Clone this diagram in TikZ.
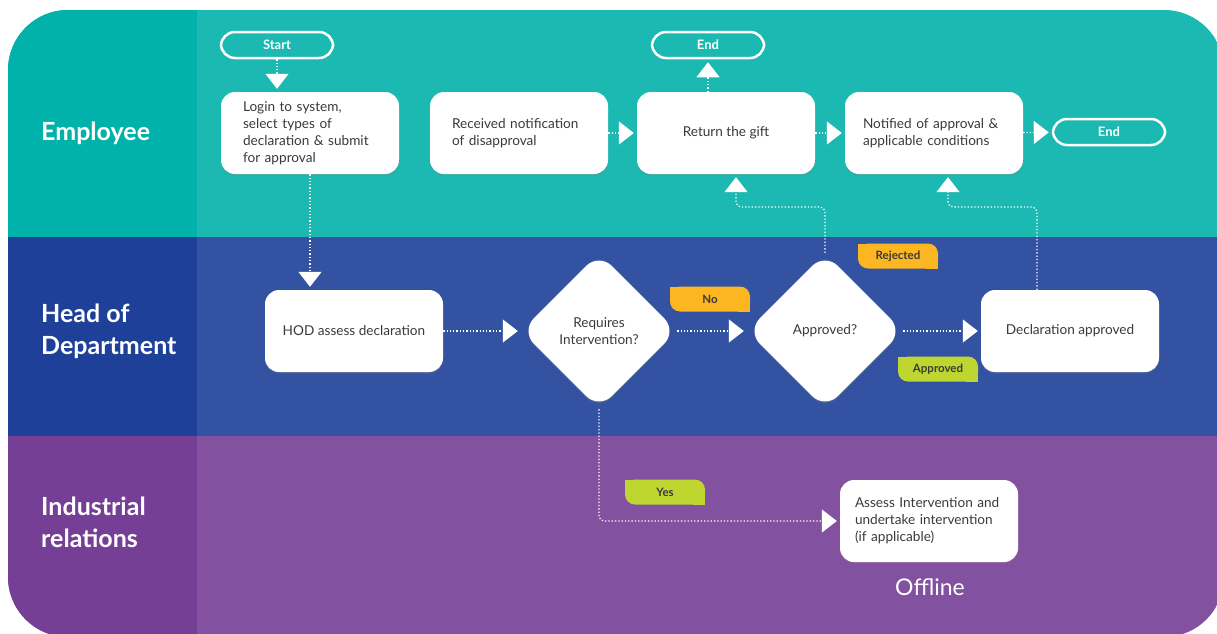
\documentclass[tikz,border=0pt]{standalone}
\usepackage{fontspec}
\setmainfont{Lato}
\usetikzlibrary{shapes.geometric,arrows.meta,shadows}

\definecolor{emphead}{HTML}{00B2A9}
\definecolor{empbody}{HTML}{1BB9B1}
\definecolor{hodhead}{HTML}{1E4098}
\definecolor{hodbody}{HTML}{3452A2}
\definecolor{irhead}{HTML}{763F96}
\definecolor{irbody}{HTML}{8252A0}
\definecolor{tagorange}{HTML}{FBB622}
\definecolor{taggreen}{HTML}{BED62F}
\definecolor{boxtext}{HTML}{3A3A3A}

\begin{document}
\begin{tikzpicture}[x=1pt,y=-1pt,
  process/.style={fill=white, rounded corners=14pt, minimum width=178pt, minimum height=82pt,
    inner sep=0pt, text=boxtext, font=\fontsize{13.6}{17}\selectfont,
    drop shadow={shadow xshift=0pt, shadow yshift=-1.5pt, opacity=0.3}},
  leftbox/.style={process, text width=134pt, align=left},
  decision/.style={diamond, fill=white, minimum width=156pt, minimum height=156pt, inner sep=0pt,
    rounded corners=18pt, align=center, text=boxtext, font=\fontsize{13.6}{17}\selectfont,
    drop shadow={shadow xshift=0pt, shadow yshift=-1.5pt, opacity=0.3}},
  startend/.style={draw=white, line width=2.5pt, rounded corners=14pt, minimum width=112pt,
    minimum height=26pt, inner sep=0pt, text=white, font=\bfseries\fontsize{13}{15}\selectfont},
  tagbox/.style={minimum width=80pt, minimum height=25pt, inner sep=0pt, text=boxtext,
    font=\bfseries\fontsize{11.5}{13}\selectfont,
    path picture={
      \fill[#1, rounded corners=10pt] (path picture bounding box.south west) rectangle (path picture bounding box.north east);
      \fill[#1] (path picture bounding box.north west) rectangle ++(12,12);
      \fill[#1] (path picture bounding box.south east) rectangle ++(-12,-12);}},
  lanelabel/.style={anchor=west, align=left, inner sep=0pt, text=white,
    font=\bfseries\fontsize{25}{32}\selectfont},
  flow/.style={draw=white, line width=1.2pt, dash pattern=on 1.3pt off 2pt, rounded corners=5pt,
    -{Triangle[width=23pt,length=15pt]}, shorten >=3pt}]

\useasboundingbox (0,0) rectangle (1217,633);

% Draw the swimlanes
\begin{scope}
\clip[rounded corners=60pt] (8,10) rectangle (1224,637);
\fill[empbody] (8,10) rectangle (1224,237);
\fill[emphead] (8,10) rectangle (197,237);
\fill[hodbody] (8,237) rectangle (1224,436);
\fill[hodhead] (8,237) rectangle (197,436);
\fill[irbody] (8,436) rectangle (1224,637);
\fill[irhead] (8,436) rectangle (197,637);
\end{scope}

% Draw the lane labels
\node[lanelabel] (emp) at (41,133) {Employee};
\node[lanelabel] (hod) at (41,331) {Head of\\Department};
\node[lanelabel] (ir) at (41,522) {Industrial\\relations};

% Draw the employee lane
\node[startend] (start) at (277,45) {Start};
\node[leftbox] (login) at (310,133) {Login to system,\\select types of\\declaration \& submit\\for approval};
\node[leftbox] (rec) at (519,133) {Received notification\\of disapproval};
\node[process] (ret) at (726,133) {Return the gift};
\node[startend] (endtop) at (708,45) {End};
\node[leftbox, text width=142pt] (noti) at (934,133) {Notified of approval \&\\applicable conditions};
\node[startend] (endright) at (1109,132) {End};

% Draw the head of department lane
\node[process] (assess) at (354,331) {HOD assess declaration};
\node[decision] (req) at (599,331) {Requires\\Intervention?};
\node[decision] (appr) at (825,331) {Approved?};
\node[process] (decl) at (1070,331) {Declaration approved};

% Draw the industrial relations lane
\node[leftbox, text width=148pt] (interv) at (929,521) {Assess Intervention and\\undertake intervention\\(if applicable)};
\node[text=white, font=\fontsize{23}{26}\selectfont] (offline) at (930,587) {Offline};

% Draw the tags
\node[tagbox=tagorange] (no) at (710,299) {No};
\node[tagbox=tagorange] (rej) at (898,256) {Rejected};
\node[tagbox=taggreen] (ok) at (938,369) {Approved};
\node[tagbox=taggreen] (yes) at (665,492) {Yes};

% Draw the connections
\draw[flow] (start.south) -- (start.south |- login.north);
\draw[flow] (login.south) -- (login.south |- assess.north);
\draw[flow] (rec) -- (ret);
\draw[flow] (ret) -- (noti);
\draw[flow] (noti) -- (endright);
\draw[flow] (ret.north -| endtop.south) -- (endtop);
\draw[flow] (assess) -- (req);
\draw[flow] (req) -- (appr);
\draw[flow] (appr) -- (decl);
\draw[flow] (appr.north) -- (appr.north |- 0,207) -| ([xshift=10pt]ret.south);
\draw[flow] ([xshift=-33pt]decl.north) -- ([xshift=-33pt]decl.north |- 0,207) -| ([xshift=14pt]noti.south);
\draw[flow] (req.south) |- (interv.west);

\end{tikzpicture}
\end{document}
